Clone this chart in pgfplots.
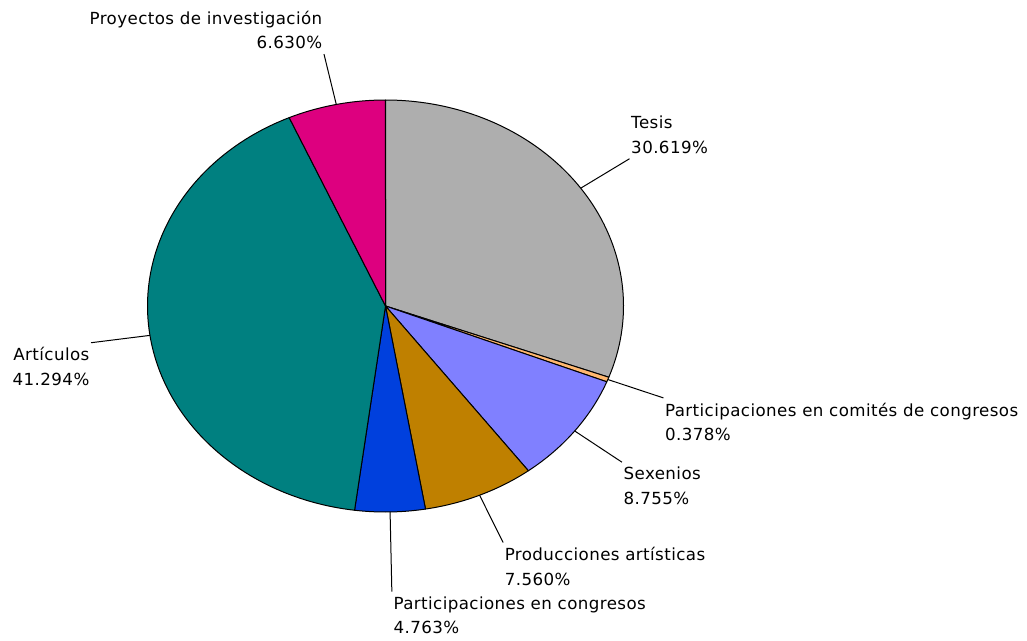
\documentclass[border=0pt]{standalone}
\usepackage{pgfplots}
\pgfplotsset{compat=1.18}
\usepackage{fontspec}
\setmainfont{DejaVu Sans}[LetterSpace=2.5]
\definecolor{cTesis}{HTML}{AEAEAE}
\definecolor{cComite}{HTML}{FFB870}
\definecolor{cSex}{HTML}{8080FF}
\definecolor{cProd}{HTML}{BF8000}
\definecolor{cCong}{HTML}{0040DD}
\definecolor{cArt}{HTML}{008080}
\definecolor{cProy}{HTML}{DD007F}
% center and radii of the pie (pixel units)
\def\cx{385.5}\def\cy{334}\def\rx{238}\def\ry{206}
% #1 start (cumulative %), #2 value %, #3 colour, #4 name, #5 leader scale
\newcommand{\slice}[5]{%
  \pgfmathsetmacro{\aa}{90-3.6*(#1+#2)}%
  \pgfmathsetmacro{\bb}{90-3.6*(#1)}%
  \pgfmathsetmacro{\mm}{90-3.6*(#1+#2/2)}%
  \pgfmathsetmacro{\cm}{cos(\mm)}%
  \pgfmathsetmacro{\sm}{sin(\mm)}%
  \pgfmathsetmacro{\xa}{\cx+\rx*\cm}%
  \pgfmathsetmacro{\ya}{\cy+\ry*\sm}%
  \pgfmathsetmacro{\xb}{\cx+#5*\rx*\cm}%
  \pgfmathsetmacro{\yb}{\cy+#5*\ry*\sm}%
  \ifdim\cm pt<-0.0001pt \def\hanch{east}\def\al{right}\else\def\hanch{west}\def\al{left}\fi
  \ifdim\sm pt<0pt \def\vanch{north}\else\def\vanch{south}\fi
  \edef\temp{\noexpand\addplot[fill=#3, draw=black, line width=0.75pt, line join=round, domain=\aa:\bb, samples=120, variable=\noexpand\t]
     ({\cx+\rx*cos(\noexpand\t)},{\cy+\ry*sin(\noexpand\t)}) -- (axis cs:\cx,\cy) -- cycle;
    \noexpand\draw[line width=0.75pt] (axis cs:\xa,\ya) -- (axis cs:\xb,\yb)
     node[anchor=\vanch\space\hanch, align=\al, inner xsep=0.9pt, inner ysep=3.3pt,
          font=\noexpand\fontsize{12.5}{18.5}\noexpand\selectfont] {\unexpanded{#4\\#2\%}};}%
  \temp
}
\begin{document}
\begin{tikzpicture}
\begin{axis}[hide axis, scale only axis, width=770.25pt, height=480pt,
  xmin=0, xmax=1027, ymin=0, ymax=640, clip=false]
\slice{0}{30.619}{cTesis}{Tesis}{1.25}
\slice{30.619}{0.378}{cComite}{Participaciones en comités de congresos}{1.25}
\slice{30.997}{8.755}{cSex}{Sexenios}{1.25}
\slice{39.752}{7.560}{cProd}{Producciones artísticas}{1.25}
\slice{47.312}{4.763}{cCong}{Participaciones en congresos}{1.387}
\slice{52.075}{41.294}{cArt}{Artículos}{1.25}
\slice{93.369}{6.630}{cProy}{Proyectos de investigación}{1.25}
\end{axis}
\pgfresetboundingbox
\path (0,0) rectangle (770.25pt,480pt);
\end{tikzpicture}
\end{document}
